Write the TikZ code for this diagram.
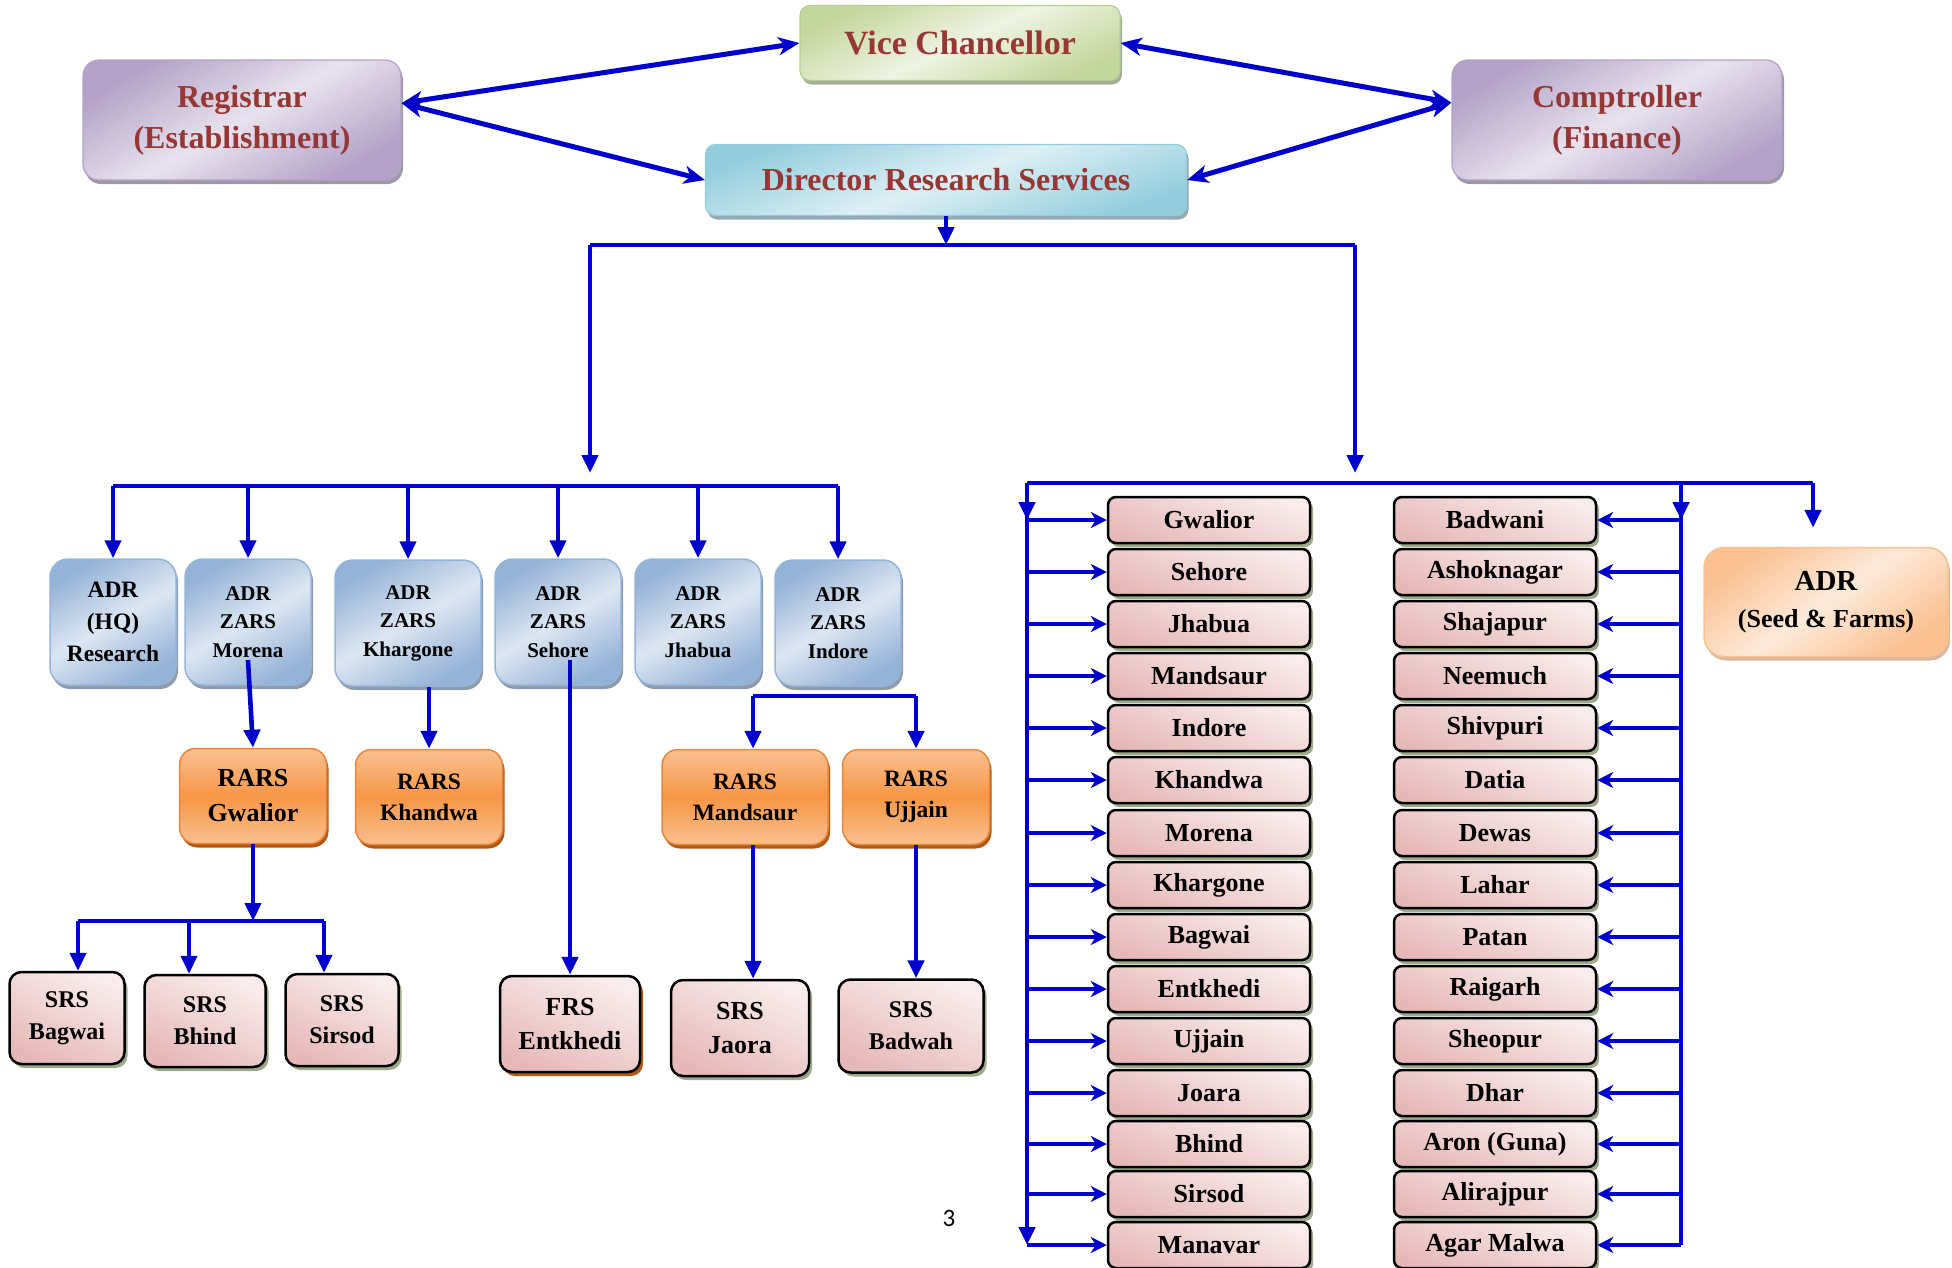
\documentclass[tikz,border=0pt]{standalone}
\usepackage{fontspec}
\setmainfont{Liberation Serif}
\newfontfamily\pagefont{Carlito}
\usetikzlibrary{positioning,arrows.meta,shadows,calc}
\definecolor{chiefred}{HTML}{953735}
\definecolor{wireblue}{HTML}{0000CC}
\definecolor{vcdark}{HTML}{C3D69B}
\definecolor{vclight}{HTML}{EEF3E2}
\definecolor{vcedge}{HTML}{B8CC94}
\definecolor{vcshade}{HTML}{A3AD97}
\definecolor{regdark}{HTML}{B3A2C7}
\definecolor{reglight}{HTML}{E8E2EE}
\definecolor{regshade}{HTML}{9E97A8}
\definecolor{drsdark}{HTML}{93CDDD}
\definecolor{drslight}{HTML}{DDEFF5}
\definecolor{drsshade}{HTML}{94A8B0}
\definecolor{adrdark}{HTML}{95B3D7}
\definecolor{adrlight}{HTML}{DCE6F2}
\definecolor{adrshade}{HTML}{8D9BAD}
\definecolor{rarsmid}{HTML}{F79646}
\definecolor{rarslight}{HTML}{FAC090}
\definecolor{rarsedge}{HTML}{E8873C}
\definecolor{rarsshade}{HTML}{B35A12}
\definecolor{srsdark}{HTML}{E6B9B8}
\definecolor{srslight}{HTML}{F9ECEC}
\definecolor{srsshade}{HTML}{9DAA8A}
\definecolor{seeddark}{HTML}{FAC090}
\definecolor{seedlight}{HTML}{FDEADA}
\definecolor{seedshade}{HTML}{D9B9A0}

\begin{document}
\begin{tikzpicture}[
  x=1pt,y=-1pt,
  every node/.style={align=center,inner sep=2pt},
  chief/.style={rounded corners=10pt,line width=1.2pt,text=chiefred,
    font=\bfseries\fontsize{32}{41}\selectfont},
  vcbox/.style={chief,draw=vcedge,top color=vcdark,bottom color=vcdark,
    middle color=vclight,shading angle=25,
    drop shadow={shadow xshift=2pt,shadow yshift=-4pt,fill=vcshade,opacity=1}},
  regbox/.style={chief,rounded corners=16pt,draw=regdark,top color=regdark,
    bottom color=regdark,middle color=reglight,shading angle=30,
    drop shadow={shadow xshift=2pt,shadow yshift=-4pt,fill=regshade,opacity=1}},
  drsbox/.style={chief,draw=drsdark,top color=drsdark,bottom color=drsdark,
    middle color=drslight,shading angle=20,
    drop shadow={shadow xshift=2pt,shadow yshift=-4pt,fill=drsshade,opacity=1}},
  adrbox/.style={rounded corners=18pt,draw=adrdark,line width=1.5pt,
    top color=adrdark,bottom color=adrdark,middle color=adrlight,shading angle=30,
    minimum width=126pt,minimum height=126pt,
    font=\bfseries\fontsize{21}{28.6}\selectfont,
    drop shadow={shadow xshift=2pt,shadow yshift=-4pt,fill=adrshade,opacity=1}},
  rarsbox/.style={rounded corners=16pt,draw=rarsedge,line width=1.5pt,
    top color=rarslight,bottom color=rarslight,middle color=rarsmid,
    minimum width=147pt,minimum height=95pt,
    font=\bfseries\fontsize{23.5}{31}\selectfont,
    drop shadow={shadow xshift=2pt,shadow yshift=-4pt,fill=rarsshade,opacity=1}},
  srsbox/.style={rounded corners=12pt,draw=black,line width=2.5pt,
    top color=srslight,bottom color=srsdark,shading angle=-25,
    minimum height=92pt,font=\bfseries\fontsize{24}{32}\selectfont,
    drop shadow={shadow xshift=3pt,shadow yshift=-4pt,fill=#1,opacity=1}},
  srsbox/.default=srsshade,
  listbox/.style={rounded corners=8pt,draw=black,line width=2.5pt,
    top color=srslight,bottom color=srsdark,shading angle=-20,
    minimum width=202pt,minimum height=46pt,
    font=\bfseries\fontsize{26}{30}\selectfont,
    drop shadow={shadow xshift=3pt,shadow yshift=-4pt,fill=srsshade,opacity=1}},
  seedbox/.style={rounded corners=20pt,draw=seeddark,line width=1.5pt,
    top color=seeddark,bottom color=seeddark,middle color=seedlight,shading angle=35,
    minimum width=244pt,minimum height=109pt,
    font=\bfseries\fontsize{26}{37}\selectfont,
    drop shadow={shadow xshift=2pt,shadow yshift=-4pt,fill=seedshade,opacity=1}},
  wire/.style={draw=wireblue,line width=4.6pt},
  dlink/.style={wire,-{Triangle[length=18pt,width=16pt]}},
  hlink/.style={wire,line width=4.2pt,-{Stealth[length=16pt,width=16pt,inset=5pt]}},
  tlink/.style={wire,line width=5pt,
    {Stealth[length=21pt,width=18pt,inset=6pt]}-{Stealth[length=21pt,width=18pt,inset=6pt]}}
]
\useasboundingbox (0,0) rectangle (1952,1267);

% Top of the chart
\node[vcbox,minimum width=320pt,minimum height=75pt,
  font=\bfseries\fontsize{34}{41}\selectfont] (VC) at (960,43) {Vice Chancellor};
\node[regbox,minimum width=318pt,minimum height=120pt] (Reg) at (242,120) {Registrar\\(Establishment)};
\node[regbox,minimum width=330pt,minimum height=120pt] (Comp) at (1617,120) {Comptroller\\(Finance)};
\node[drsbox,minimum width=481pt,minimum height=71pt] (DRS) at (946,180) {Director Research Services};

% Associate directors
\node[adrbox,font=\bfseries\fontsize{23.5}{32}\selectfont] (A1) at (113,622) {ADR\\(HQ)\\Research};
\node[adrbox] (A2) at (248,622) {ADR\\ZARS\\Morena};
\node[adrbox,minimum width=146pt] (A3) at (408,623) {ADR\\ZARS\\Khargone};
\node[adrbox] (A4) at (558,622) {ADR\\ZARS\\Sehore};
\node[adrbox] (A5) at (698,622) {ADR\\ZARS\\Jhabua};
\node[adrbox] (A6) at (838,623) {ADR\\ZARS\\Indore};

% Regional stations
\node[rarsbox,font=\bfseries\fontsize{26}{35}\selectfont] (R1) at (253,796) {RARS\\Gwalior};
\node[rarsbox] (R2) at (429,797) {RARS\\Khandwa};
\node[rarsbox,minimum width=166pt] (R3) at (745,797) {RARS\\Mandsaur};
\node[rarsbox] (R4) at (916,797) {RARS\\Ujjain};

% Sub stations
\node[srsbox,minimum width=115pt] (S1) at (67,1018) {SRS\\Bagwai};
\node[srsbox,minimum width=121pt] (S2) at (205,1021) {SRS\\Bhind};
\node[srsbox,minimum width=113pt] (S3) at (342,1020) {SRS\\Sirsod};
\node[srsbox=rarsshade,minimum width=140pt,minimum height=96pt,
  font=\bfseries\fontsize{26}{34}\selectfont] (S4) at (570,1024) {FRS\\Entkhedi};
\node[srsbox,minimum width=138pt,minimum height=96pt,
  font=\bfseries\fontsize{26}{34}\selectfont] (S5) at (740,1028) {SRS\\Jaora};
\node[srsbox,minimum width=145pt,minimum height=93pt] (S6) at (911,1026) {SRS\\Badwah};

% Left list
\node[listbox] (L1)  at (1209,520)  {Gwalior};
\node[listbox] (L2)  at (1209,572)  {Sehore};
\node[listbox] (L3)  at (1209,624)  {Jhabua};
\node[listbox] (L4)  at (1209,676)  {Mandsaur};
\node[listbox] (L5)  at (1209,728)  {Indore};
\node[listbox] (L6)  at (1209,780)  {Khandwa};
\node[listbox] (L7)  at (1209,833)  {Morena};
\node[listbox] (L8)  at (1209,885)  {Khargone};
\node[listbox] (L9)  at (1209,937)  {Bagwai};
\node[listbox] (L10) at (1209,989)  {Entkhedi};
\node[listbox] (L11) at (1209,1041) {Ujjain};
\node[listbox] (L12) at (1209,1093) {Joara};
\node[listbox] (L13) at (1209,1144) {Bhind};
\node[listbox] (L14) at (1209,1194) {Sirsod};
\node[listbox] (L15) at (1209,1245) {Manavar};

% Right list
\node[listbox] (M1)  at (1495,520)  {Badwani};
\node[listbox] (M2)  at (1495,572)  {Ashoknagar};
\node[listbox] (M3)  at (1495,624)  {Shajapur};
\node[listbox] (M4)  at (1495,676)  {Neemuch};
\node[listbox] (M5)  at (1495,728)  {Shivpuri};
\node[listbox] (M6)  at (1495,780)  {Datia};
\node[listbox] (M7)  at (1495,833)  {Dewas};
\node[listbox] (M8)  at (1495,885)  {Lahar};
\node[listbox] (M9)  at (1495,937)  {Patan};
\node[listbox] (M10) at (1495,989)  {Raigarh};
\node[listbox] (M11) at (1495,1041) {Sheopur};
\node[listbox] (M12) at (1495,1093) {Dhar};
\node[listbox] (M13) at (1495,1144) {Aron (Guna)};
\node[listbox] (M14) at (1495,1194) {Alirajpur};
\node[listbox] (M15) at (1495,1245) {Agar Malwa};

\node[seedbox] (Seed) at (1826,602) {{\fontsize{29}{37}\selectfont ADR}\\(Seed \& Farms)};

\node[font=\pagefont\fontsize{25}{30}\selectfont] (pg) at (949,1218) {3};

% Bus points
\coordinate (tl) at (590,245);
\coordinate (tr) at (1355,245);
\coordinate (al) at (113,486);
\coordinate (ar) at (838,486);
\coordinate (mb) at (753,696);
\coordinate (ub) at (916,696);
\coordinate (sb1) at (78,921);
\coordinate (sb2) at (189,921);
\coordinate (sb3) at (324,921);
\coordinate (lt) at (1027,483);
\coordinate (rt) at (1681,483);
\coordinate (st) at (1813,483);
\coordinate (a2b) at ([yshift=-38pt]A2.center);
\coordinate (a4b) at ([yshift=-38pt]A4.center);

% Arrows between the top boxes
\draw[tlink] (Reg.6) -- (VC.west);
\draw[tlink] (Reg.6) -- (DRS.west);
\draw[tlink] (Comp.174) -- (VC.east);
\draw[tlink] (Comp.174) -- (DRS.east);

% Director to both branches
\draw[dlink] (DRS.south) -- (DRS.south |- tl);
\draw[wire] (tl) -- (tr);
\draw[dlink,shorten >=13pt] (tl) -- (tl |- al);
\draw[dlink,shorten >=10pt] (tr) -- (tr |- lt);

% Left branch
\draw[wire] (al) -- (ar);
\draw[dlink] (A1.north |- al) -- (A1.north);
\draw[dlink] (A2.north |- al) -- (A2.north);
\draw[dlink] (A3.north |- al) -- (A3.north);
\draw[dlink] (A4.north |- al) -- (A4.north);
\draw[dlink] (A5.north |- al) -- (A5.north);
\draw[dlink] (A6.north |- al) -- (A6.north);

\draw[dlink] (a2b) -- (R1.north);
\draw[dlink] (A3.south -| R2.north) -- (R2.north);
\draw[dlink] (a4b -| S4.north) -- (S4.north);
\draw[wire] (mb) -- (ub);
\draw[dlink] (mb) -- (mb |- R3.north);
\draw[dlink] (ub) -- (ub |- R4.north);

\draw[dlink] (R1.south) -- (R1.south |- sb1);
\draw[wire] (sb1) -- (sb3);
\draw[dlink] (sb1) -- (sb1 |- S1.north);
\draw[dlink] (sb2) -- (sb2 |- S2.north);
\draw[dlink] (sb3) -- (sb3 |- S3.north);
\draw[dlink] (R3.south -| mb) -- (S5.north -| mb);
\draw[dlink] (R4.south) -- (R4.south |- S6.north);

% Right branch
\draw[wire] (lt) -- (st);
\draw[dlink,shorten >=19pt] (st) -- (st |- Seed.north);
\draw[dlink] (lt) -- (lt |- L1.west);
\draw[dlink] (lt) -- (lt |- L15.west);
\draw[dlink] (rt) -- (rt |- M1.east);
\draw[wire] (rt) -- (rt |- M15.east);

\draw[hlink] (lt |- L1)  -- (L1.west);
\draw[hlink] (lt |- L2)  -- (L2.west);
\draw[hlink] (lt |- L3)  -- (L3.west);
\draw[hlink] (lt |- L4)  -- (L4.west);
\draw[hlink] (lt |- L5)  -- (L5.west);
\draw[hlink] (lt |- L6)  -- (L6.west);
\draw[hlink] (lt |- L7)  -- (L7.west);
\draw[hlink] (lt |- L8)  -- (L8.west);
\draw[hlink] (lt |- L9)  -- (L9.west);
\draw[hlink] (lt |- L10) -- (L10.west);
\draw[hlink] (lt |- L11) -- (L11.west);
\draw[hlink] (lt |- L12) -- (L12.west);
\draw[hlink] (lt |- L13) -- (L13.west);
\draw[hlink] (lt |- L14) -- (L14.west);
\draw[hlink] (lt |- L15) -- (L15.west);

\draw[hlink] (rt |- M1)  -- (M1.east);
\draw[hlink] (rt |- M2)  -- (M2.east);
\draw[hlink] (rt |- M3)  -- (M3.east);
\draw[hlink] (rt |- M4)  -- (M4.east);
\draw[hlink] (rt |- M5)  -- (M5.east);
\draw[hlink] (rt |- M6)  -- (M6.east);
\draw[hlink] (rt |- M7)  -- (M7.east);
\draw[hlink] (rt |- M8)  -- (M8.east);
\draw[hlink] (rt |- M9)  -- (M9.east);
\draw[hlink] (rt |- M10) -- (M10.east);
\draw[hlink] (rt |- M11) -- (M11.east);
\draw[hlink] (rt |- M12) -- (M12.east);
\draw[hlink] (rt |- M13) -- (M13.east);
\draw[hlink] (rt |- M14) -- (M14.east);
\draw[hlink] (rt |- M15) -- (M15.east);

\end{tikzpicture}
\end{document}
